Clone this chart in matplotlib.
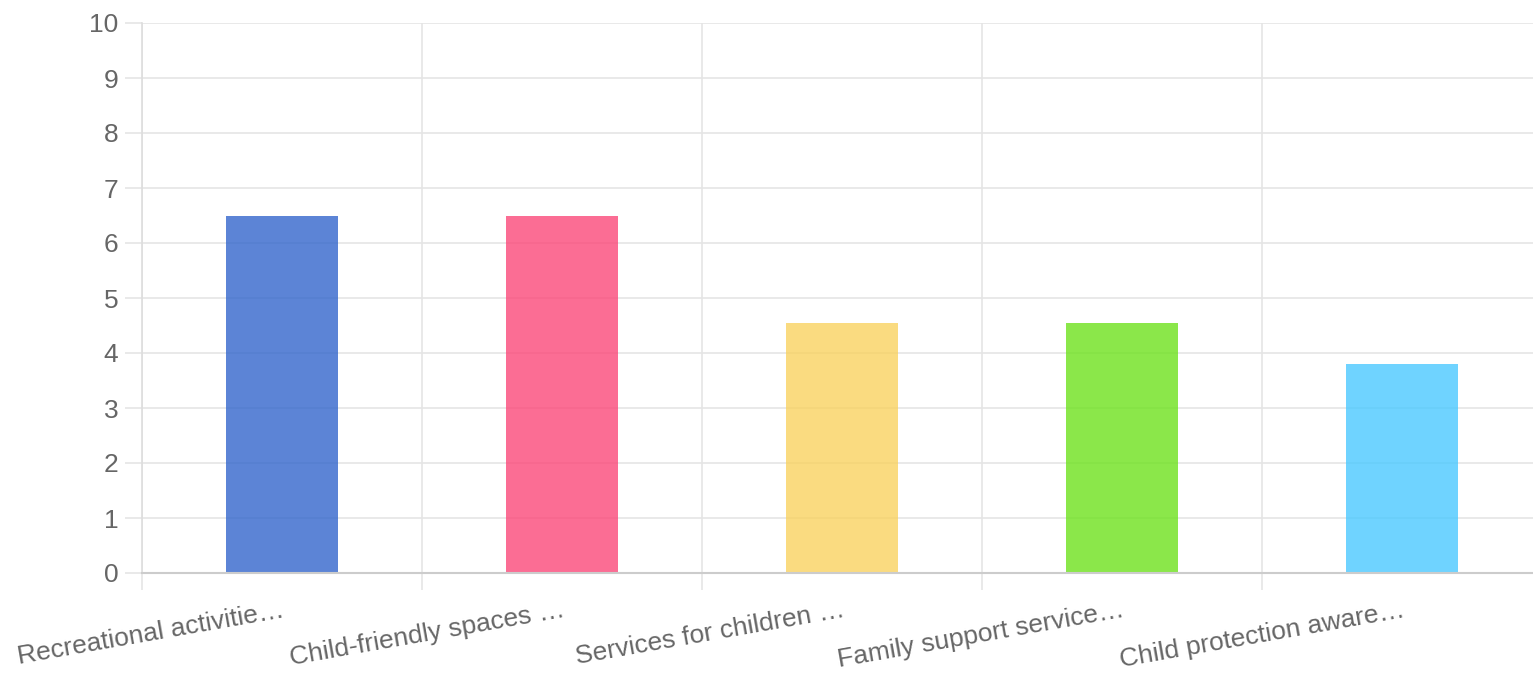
import numpy as np
import matplotlib.pyplot as plt

categories = ["Recreational activitie\u2026", "Child-friendly spaces \u2026",
              "Services for children \u2026", "Family support service\u2026",
              "Child protection aware\u2026"]
values = [6.5, 6.5, 4.55, 4.55, 3.8]
colors = ["#3366cc", "#fb4879", "#f9d260", "#6ee21d", "#4bc9ff"]

plt.rcParams['font.family'] = ['Liberation Sans', 'DejaVu Sans']

fig = plt.figure(figsize=(15.33, 6.79), dpi=100)
ax = fig.add_axes([142 / 1533, 1 - 573 / 679, 1400 / 1533, 550 / 679])

x = np.arange(len(categories))
ax.bar(x, values, width=0.4, color=colors, alpha=0.8, zorder=2)

ax.set_xlim(-0.5, len(categories) - 0.5)
ax.set_ylim(0, 10)
ax.set_yticks(range(0, 11))

ax.set_xticks(x)
ax.set_xticklabels(categories, rotation=10, ha="right", rotation_mode="anchor",
                   fontsize=19, color="#666666")
ax.set_xticks(np.arange(-0.5, len(categories), 1), minor=True)
ax.tick_params(axis="x", which="major", length=0, pad=18)
ax.tick_params(axis="x", which="minor", length=12, color="#e5e5e5", width=1.2)
ax.tick_params(axis="y", length=12, color="#e5e5e5", width=1.2,
               labelsize=19, labelcolor="#666666", pad=5)

ax.grid(axis="y", color="#e5e5e5", linewidth=1.2, zorder=0)
ax.grid(axis="x", which="minor", color="#e5e5e5", linewidth=1.2, zorder=0)
ax.set_axisbelow(True)

for s in ["top", "right"]:
    ax.spines[s].set_visible(False)
ax.spines["left"].set_color("#dddddd")
ax.spines["bottom"].set_color("#cccccc")
ax.spines["left"].set_linewidth(1.2)
ax.spines["bottom"].set_linewidth(1.5)

fig.savefig("out.png", dpi=100)
